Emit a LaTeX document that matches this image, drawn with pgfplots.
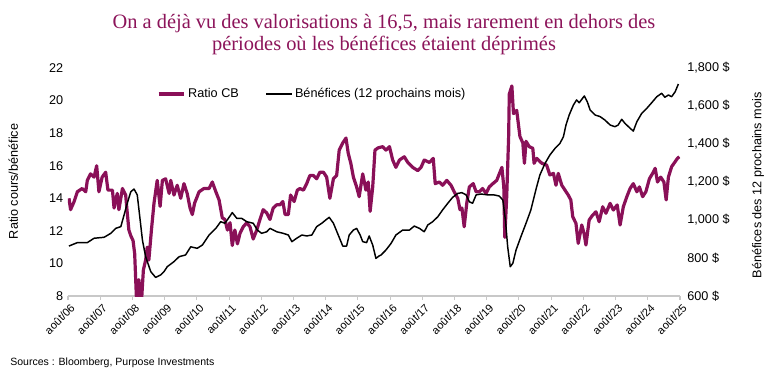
\documentclass[border=0pt]{standalone}
\usepackage{pgfplots}
\pgfplotsset{compat=1.18}
\usepackage{fontspec}
\setmainfont{Liberation Sans}
\newfontfamily\titlefont{Liberation Serif}
\definecolor{pe}{RGB}{138,16,88}
\definecolor{ttl}{RGB}{140,20,90}
\definecolor{axgray}{RGB}{200,200,200}
\begin{document}
\begin{tikzpicture}
\path[use as bounding box] (-51pt,-70.5pt) rectangle (526.5pt,222pt);
\begin{axis}[
  at={(0,0)}, anchor=south west,
  scale only axis, width=459pt, height=171pt,
  xmin=0, xmax=19, ymin=8, ymax=22,
  axis y line*=left, axis x line*=bottom,
  y axis line style={draw=none},
  x axis line style={draw=axgray, line width=0.8pt},
  xtick={0,...,19},
  xticklabels={ao\^ut/06,ao\^ut/07,ao\^ut/08,ao\^ut/09,ao\^ut/10,ao\^ut/11,ao\^ut/12,ao\^ut/13,ao\^ut/14,ao\^ut/15,ao\^ut/16,ao\^ut/17,ao\^ut/18,ao\^ut/19,ao\^ut/20,ao\^ut/21,ao\^ut/22,ao\^ut/23,ao\^ut/24,ao\^ut/25},
  xticklabel style={rotate=45, anchor=north east, font=\fontsize{8.3}{9.5}\selectfont, inner sep=0.5pt, yshift=-2pt},
  x tick style={draw=axgray, line width=0.8pt},
  xtick align=outside, major tick length=3pt,
  ytick={8,10,...,22},
  y tick style={draw=none},
  yticklabel style={/pgf/number format/assume math mode=true, font=\fontsize{9.5}{11}\selectfont},
  clip=true,
]
\addplot[pe, line width=2.4pt, line join=round] coordinates {
(0.03,14.0)(0.08,13.3)(0.19,13.8)(0.29,14.4)(0.44,14.6)(0.55,14.4)(0.60,15.1)(0.70,15.5)(0.81,15.3)(0.89,16.0)(0.96,14.4)(1.06,15.3)(1.17,15.6)(1.24,14.5)(1.38,14.5)(1.43,13.4)(1.53,14.3)(1.58,13.3)(1.69,14.6)(1.79,14.2)(1.84,13.1)(1.89,12.05)(1.95,11.7)(2.02,11.4)(2.07,10.6)(2.13,7.6)(2.20,9.0)(2.28,7.6)(2.34,9.6)(2.41,10.2)(2.46,11.0)(2.51,10.2)(2.59,12.05)(2.67,13.7)(2.77,15.1)(2.86,13.5)(2.93,15.1)(3.03,15.2)(3.14,14.3)(3.19,15.1)(3.29,14.2)(3.39,14.8)(3.50,14.0)(3.60,14.9)(3.70,14.3)(3.79,13.4)(3.86,13.0)(3.93,13.7)(4.07,14.4)(4.22,14.6)(4.38,14.6)(4.48,15.0)(4.59,14.4)(4.69,13.9)(4.79,12.8)
(4.87,12.7)(4.95,12.05)(5.03,12.5)(5.10,11.1)(5.18,12.05)(5.26,11.2)(5.34,11.85)(5.44,12.25)(5.55,12.5)(5.65,12.25)(5.75,11.5)(5.86,12.05)(5.96,12.7)(6.06,13.3)(6.17,13.1)(6.27,12.7)(6.37,13.4)(6.48,13.6)(6.58,13.6)(6.67,13.8)(6.74,13.0)(6.84,13.0)(6.91,14.2)(7.02,13.8)(7.12,14.5)(7.20,14.6)(7.31,14.5)(7.41,14.9)(7.51,15.4)(7.62,15.4)(7.72,15.2)(7.82,15.6)(7.93,15.6)(8.03,15.3)(8.13,14.0)(8.24,15.2)(8.34,15.4)(8.42,16.96)(8.53,17.4)(8.63,17.7)(8.70,16.76)(8.78,16.15)(8.86,15.3)(8.96,14.7)(9.04,14.1)(9.15,15.5)(9.25,14.5)(9.32,15.0)(9.38,13.2)(9.46,14.7)(9.53,16.96)(9.63,17.1)
(9.77,17.17)(9.87,16.96)(9.98,17.17)(10.08,16.35)(10.18,15.9)(10.29,16.35)(10.44,16.55)(10.55,16.2)(10.70,15.9)(10.86,15.7)(10.96,15.9)(11.06,16.35)(11.22,16.2)(11.34,16.45)(11.40,14.9)(11.53,15.0)(11.63,14.8)(11.76,15.1)(11.89,14.8)(11.99,14.4)(12.10,14.0)(12.17,13.3)(12.23,13.4)(12.30,12.25)(12.38,13.7)(12.46,14.7)(12.58,14.9)(12.67,14.4)(12.77,14.4)(12.87,14.6)(12.98,14.3)(13.08,14.7)(13.19,14.9)(13.31,15.1)(13.41,15.6)(13.47,15.9)(13.53,14.7)(13.56,11.6)(13.62,14.1)(13.68,17.8)(13.70,20.4)(13.78,20.9)(13.83,19.2)(13.93,19.4)(14.03,17.8)(14.12,17.4)(14.17,16.15)(14.22,17.5)(14.32,17.17)
(14.43,17.07)(14.47,16.15)(14.55,16.45)(14.71,16.15)(14.86,16.04)(14.96,15.43)(15.07,15.53)(15.15,14.8)(15.22,15.53)(15.33,14.8)(15.43,14.5)(15.53,14.2)(15.61,13.9)(15.67,12.87)(15.77,12.46)(15.84,11.23)(15.95,12.36)(16.02,11.85)(16.08,11.13)(16.18,12.67)(16.29,12.97)(16.39,13.17)(16.49,12.56)(16.60,13.48)(16.70,13.08)(16.83,13.69)(16.93,13.28)(17.05,13.59)(17.14,12.36)(17.24,13.48)(17.35,14.1)(17.45,14.6)(17.55,14.9)(17.66,14.4)(17.74,14.7)(17.84,14.1)(17.94,14.4)(18.05,15.2)(18.15,15.53)(18.23,15.84)(18.30,15.0)(18.40,15.3)(18.50,15.0)(18.57,13.9)(18.64,15.3)(18.74,15.94)(18.85,16.25)(18.92,16.45)(18.98,16.55)
};
\end{axis}
\begin{axis}[
  at={(0,0)}, anchor=south west,
  scale only axis, width=459pt, height=171pt,
  xmin=0, xmax=19, ymin=600, ymax=1800,
  axis y line*=right, axis x line=none,
  y axis line style={draw=none},
  y tick style={draw=none},
  ytick={600,800,...,1800},
  yticklabels={{600 \$},{800 \$},{1,000 \$},{1,200 \$},{1,400 \$},{1,600 \$},{1,800 \$}},
  yticklabel style={font=\fontsize{9.5}{11}\selectfont, anchor=west, xshift=2pt},
  legend style={draw=none, fill=none, at={(0.145,0.886)}, anchor=west, legend columns=2, font=\fontsize{9.5}{11}\selectfont, /tikz/every even column/.append style={column sep=18pt}, inner sep=0pt},
  legend cell align=left,
  legend image code/.code={\draw[#1] (0pt,0pt) -- (19pt,0pt);},
]
\addlegendimage{pe, line width=2.4pt}
\addlegendentry{Ratio CB}
\addplot[black, line width=1.1pt, line join=round] coordinates {
(0.03,863)(0.29,881)(0.60,881)(0.81,904)(1.12,909)(1.33,930)(1.48,956)(1.64,965)(1.74,1026)(1.84,1088)(1.95,1149)(2.05,1163)(2.15,1132)(2.24,1000)(2.31,895)(2.41,807)(2.57,728)(2.72,698)(2.88,711)(2.98,728)(3.08,754)(3.29,781)(3.45,807)(3.65,816)(3.81,859)(4.01,851)(4.17,868)(4.38,921)(4.59,956)(4.74,991)(4.87,983)(4.98,1009)(5.10,1039)(5.24,1009)(5.39,1009)(5.55,991)(5.75,983)(5.88,947)(6.01,930)(6.17,938)(6.27,956)(6.48,938)(6.68,930)(6.84,921)(6.95,886)(7.10,904)(7.26,921)(7.41,916)(7.57,921)(7.72,965)(7.88,983)(8.03,1004)(8.11,1014)(8.24,983)(8.39,921)(8.53,863)(8.65,863)(8.73,921)(8.86,947)(8.96,956)(9.07,921)(9.15,886)(9.27,881)(9.35,916)(9.46,868)(9.56,798)(9.66,811)(9.72,816)(9.87,842)(10.03,877)(10.18,921)(10.39,947)(10.60,947)(10.75,968)(10.91,956)(11.06,938)(11.17,974)(11.32,991)(11.48,1017)(11.63,1053)(11.79,1088)(11.94,1119)(12.10,1140)(12.23,1144)(12.36,1132)(12.46,1096)(12.56,1088)(12.67,1132)(12.82,1137)(13.03,1132)(13.23,1132)(13.39,1126)(13.50,1105)(13.58,1000)(13.65,859)(13.73,754)(13.81,772)(13.91,842)(14.06,912)(14.22,983)(14.37,1053)(14.55,1175)(14.65,1237)(14.81,1298)(14.96,1342)(15.12,1377)(15.27,1403)(15.38,1438)(15.46,1500)(15.56,1553)(15.69,1605)(15.79,1632)(15.87,1617)(15.95,1635)(16.03,1653)(16.12,1623)(16.21,1579)(16.36,1553)(16.52,1544)(16.67,1526)(16.83,1500)(16.98,1491)(17.08,1500)(17.19,1530)(17.29,1509)(17.45,1483)(17.55,1468)(17.66,1517)(17.81,1561)(17.97,1588)(18.12,1617)(18.28,1649)(18.43,1667)(18.53,1646)(18.64,1658)(18.74,1649)(18.85,1675)(18.95,1716)
};
\addlegendentry{B\'en\'efices (12 prochains mois)}
\end{axis}
\node[align=center, text=ttl, font=\titlefont\fontsize{15.3}{17}\selectfont] at (237pt,196pt) {On a d\'ej\`a vu des valorisations \`a 16,5, mais rarement en dehors des\\p\'eriodes o\`u les b\'en\'efices \'etaient d\'eprim\'es};
\node[rotate=90, font=\fontsize{9.5}{11}\selectfont] at (-41pt,86pt) {Ratio cours/b\'en\'efice};
\node[rotate=90, font=\fontsize{9.5}{11}\selectfont] at (517.5pt,83pt) {B\'en\'efices des 12 prochains mois};
\node[anchor=west, font=\fontsize{7.9}{9}\selectfont, inner sep=0pt] at (-43.5pt,-50pt) {Sources : Bloomberg, Purpose Investments};
\end{tikzpicture}
\end{document}
